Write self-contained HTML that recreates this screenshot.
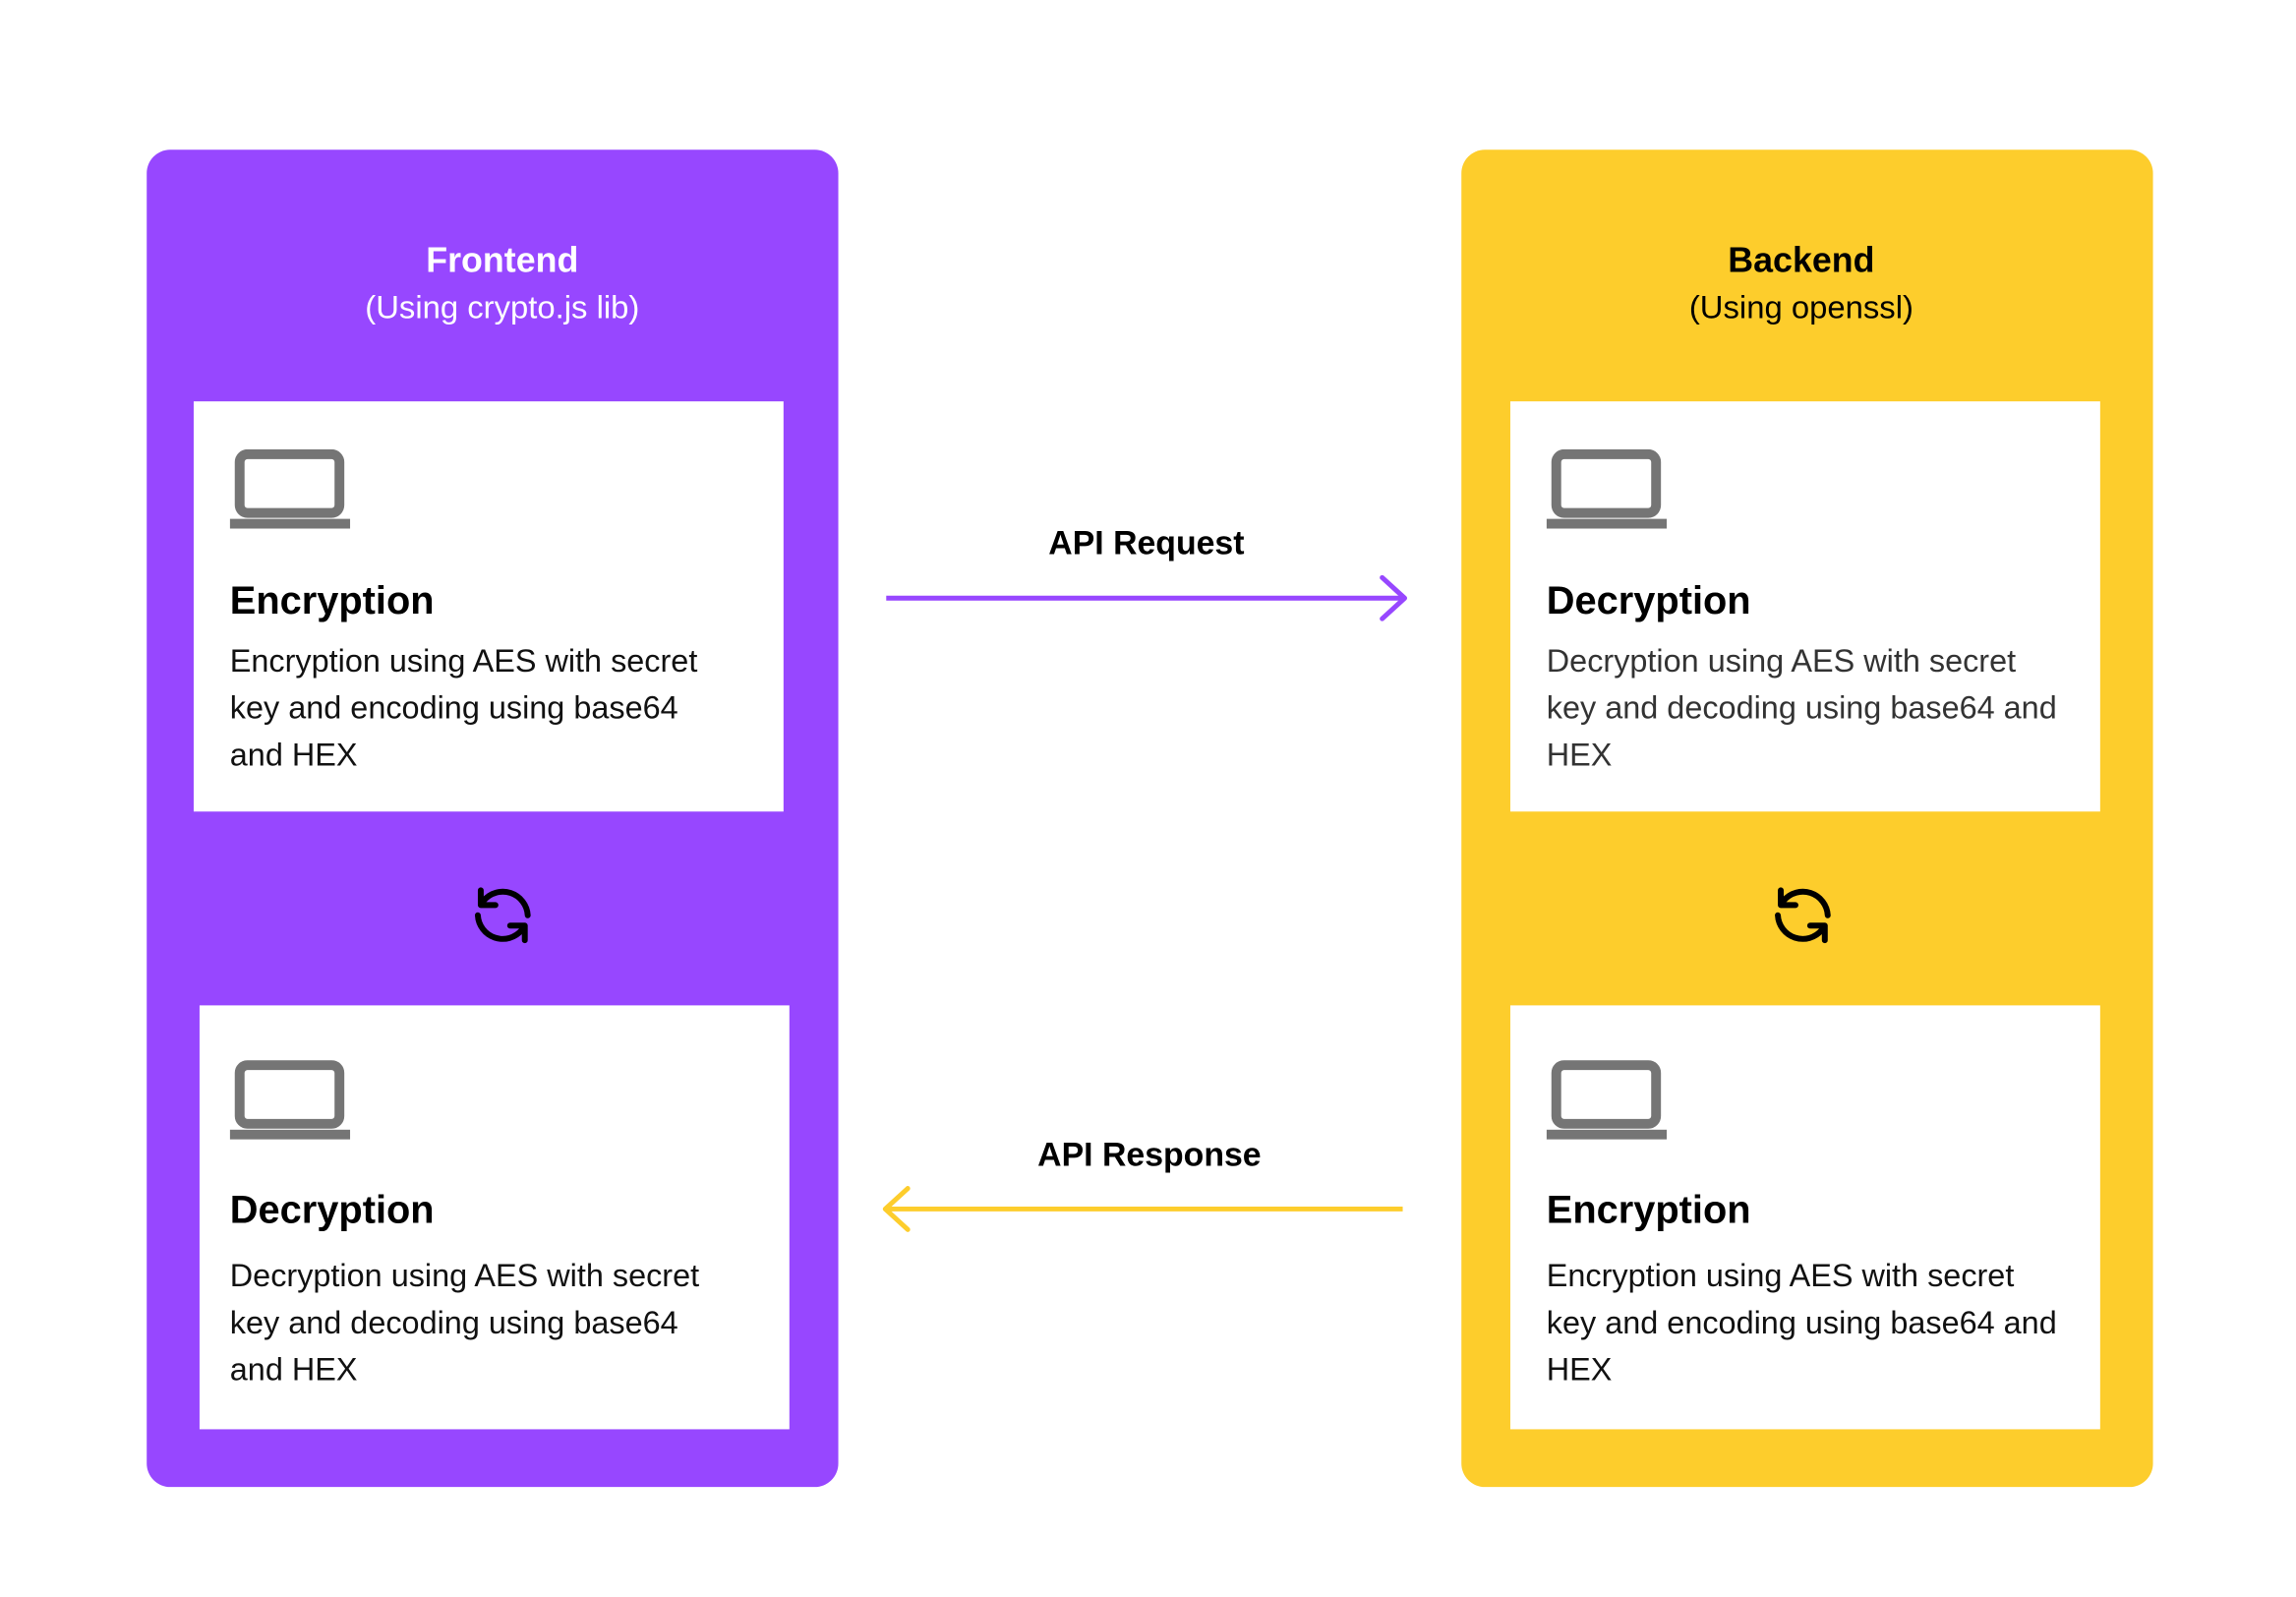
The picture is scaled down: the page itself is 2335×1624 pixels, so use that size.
<!DOCTYPE html>
<html><head><meta charset="utf-8"><style>
*{margin:0;padding:0;box-sizing:border-box}
html,body{width:2335px;height:1624px;background:#fff;overflow:hidden;font-family:"Liberation Sans",Arial,sans-serif}
#wrap{position:absolute;left:0;top:0;width:2335px;height:1624px;transform:scale(0.9948,0.9955);transform-origin:0 0}
.abs{position:absolute}
.panel{position:absolute;top:153px;width:707px;height:1366px;border-radius:24px}
.p{background:#9747FF}.y{background:#FDCD2C}
.title{position:absolute;width:707px;text-align:center;font-weight:bold;font-size:36px;top:92px}
.sub{position:absolute;width:707px;text-align:center;font-size:33px;top:142px}
.card{position:absolute;background:#fff}
.card h2{position:absolute;left:37px;font-size:40px;font-weight:bold;color:#000}
.card p{position:absolute;left:37px;font-size:32.6px;line-height:48px;white-space:nowrap;color:#111}
.lap{position:absolute;left:37px}
.ref{position:absolute;width:72px;height:72px}
.lbl{position:absolute;font-weight:bold;font-size:34px;color:#000;text-align:center;width:400px}
</style></head><body><div id="wrap">

<div class="panel p" style="left:150px">
  <div class="title" style="color:#fff;left:10px">Frontend</div>
  <div class="sub" style="color:#fff;left:10px">(Using crypto.js lib)</div>
</div>
<div class="panel y" style="left:1494px">
  <div class="title" style="color:#000;left:-6px">Backend</div>
  <div class="sub" style="color:#000;left:-6px">(Using openssl)</div>
</div>

<div class="card" style="left:198px;top:410px;width:603px;height:419px">
  <svg class="lap" style="top:49px" width="123" height="81" viewBox="0 0 123 81"><rect x="10" y="5" width="102" height="60" rx="8" fill="none" stroke="#757575" stroke-width="10"/><rect x="0" y="71" width="123" height="10" fill="#757575"/></svg>
  <h2 style="top:182px">Encryption</h2>
  <p style="top:241px">Encryption using AES with secret<br>key and encoding using base64<br>and HEX</p>
</div>
<div class="card" style="left:204px;top:1027px;width:603px;height:433px">
  <svg class="lap" style="top:56px;left:31px" width="123" height="81" viewBox="0 0 123 81"><rect x="10" y="5" width="102" height="60" rx="8" fill="none" stroke="#757575" stroke-width="10"/><rect x="0" y="71" width="123" height="10" fill="#757575"/></svg>
  <h2 style="top:187px;left:31px">Decryption</h2>
  <p style="top:252px;left:31px">Decryption using AES with secret<br>key and decoding using base64<br>and HEX</p>
</div>
<div class="card" style="left:1544px;top:410px;width:603px;height:419px">
  <svg class="lap" style="top:49px" width="123" height="81" viewBox="0 0 123 81"><rect x="10" y="5" width="102" height="60" rx="8" fill="none" stroke="#757575" stroke-width="10"/><rect x="0" y="71" width="123" height="10" fill="#757575"/></svg>
  <h2 style="top:182px">Decryption</h2>
  <p style="top:241px;color:#333">Decryption using AES with secret<br>key and decoding using base64 and<br>HEX</p>
</div>
<div class="card" style="left:1544px;top:1027px;width:603px;height:433px">
  <svg class="lap" style="top:56px" width="123" height="81" viewBox="0 0 123 81"><rect x="10" y="5" width="102" height="60" rx="8" fill="none" stroke="#757575" stroke-width="10"/><rect x="0" y="71" width="123" height="10" fill="#757575"/></svg>
  <h2 style="top:187px">Encryption</h2>
  <p style="top:252px">Encryption using AES with secret<br>key and encoding using base64 and<br>HEX</p>
</div>

<svg class="ref" style="left:478px;top:899px" viewBox="0 0 24 24" fill="none" stroke="#000" stroke-width="2" stroke-linecap="round" stroke-linejoin="round">
  <path d="M20.5 12 A8.5 8.5 0 0 0 5.5 7"/><polyline points="4.5,3.5 4.5,8.5 9.5,8.5"/>
  <path d="M3.5 12 A8.5 8.5 0 0 0 18.5 17"/><polyline points="14.5,15.5 19.5,15.5 19.5,20.5"/>
</svg>
<svg class="ref" style="left:1807px;top:899px" viewBox="0 0 24 24" fill="none" stroke="#000" stroke-width="2" stroke-linecap="round" stroke-linejoin="round">
  <path d="M20.5 12 A8.5 8.5 0 0 0 5.5 7"/><polyline points="4.5,3.5 4.5,8.5 9.5,8.5"/>
  <path d="M3.5 12 A8.5 8.5 0 0 0 18.5 17"/><polyline points="14.5,15.5 19.5,15.5 19.5,20.5"/>
</svg>

<div class="lbl" style="left:972px;top:536px">API Request</div>
<div class="lbl" style="left:975px;top:1161px">API Response</div>
<svg class="abs" style="left:0;top:0" width="2335" height="1624">
  <line x1="906" y1="611" x2="1434" y2="611" stroke="#9747FF" stroke-width="5"/>
  <polyline points="1413,590 1436,611 1413,632" fill="none" stroke="#9747FF" stroke-width="5" stroke-linecap="round" stroke-linejoin="round"/>
  <line x1="908" y1="1235" x2="1434" y2="1235" stroke="#FDCD2C" stroke-width="5"/>
  <polyline points="928,1214 905,1235 928,1256" fill="none" stroke="#FDCD2C" stroke-width="5" stroke-linecap="round" stroke-linejoin="round"/>
</svg>
</div></body></html>
